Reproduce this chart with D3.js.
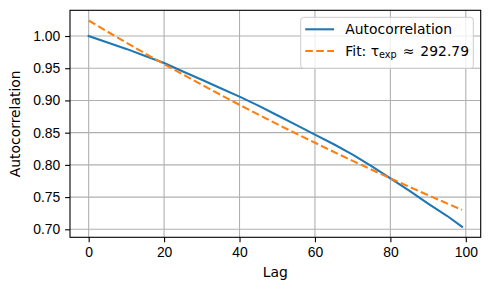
<!DOCTYPE html>
<html>
<head>
<meta charset="utf-8">
<script src="https://cdn.jsdelivr.net/npm/d3@7"></script>
<style>
  body { margin: 0; background: #fff; }
  svg { display: block; font-family: "DejaVu Sans", sans-serif; }
  .grid line { stroke: #b0b0b0; stroke-width: 1.1px; }
  .axis text { font-size: 13.9px; fill: #000; }
  .axis path, .axis line { stroke: #000; stroke-width: 1.1px; }
</style>
</head>
<body>
<svg width="490" height="290"></svg>
<script>
// autocorrelation
const lags = [0, 5, 10, 15, 20, 25, 30, 35, 40, 45, 50, 55, 60, 65, 70, 75, 80, 85, 90, 95, 99];
const acf = [1.000, 0.990, 0.980, 0.969, 0.958, 0.945, 0.932, 0.919, 0.906, 0.892, 0.877,
  0.862, 0.847, 0.832, 0.816, 0.798, 0.779, 0.760, 0.740, 0.721, 0.704];

// exponential fit, tau ~ 292.79
const fitLags = [0, 10, 20, 30, 40, 50, 60, 70, 80, 90, 99];
const fitVals = [1.024, 0.9896, 0.9564, 0.9243, 0.8932, 0.8632, 0.8343, 0.8062, 0.7792, 0.7530, 0.7302];

const xTicks = [0, 20, 40, 60, 80, 100];
const yTicks = [0.70, 0.75, 0.80, 0.85, 0.90, 0.95, 1.00];

const svg = d3.select("svg");
const width = +svg.attr("width");
const height = +svg.attr("height");
const margin = { top: 10.3, right: 9.3, bottom: 52.7, left: 70 };

const x = d3.scaleLinear().domain([-4.95, 103.95]).range([margin.left, width - margin.right]);
const y = d3.scaleLinear().domain([0.6876, 1.0399]).range([height - margin.bottom, margin.top]);

// grid
svg.append("g").attr("class", "grid")
  .selectAll("line.v").data(xTicks).join("line")
  .attr("x1", (d) => x(d)).attr("x2", (d) => x(d))
  .attr("y1", margin.top).attr("y2", height - margin.bottom);
svg.append("g").attr("class", "grid")
  .selectAll("line.h").data(yTicks).join("line")
  .attr("x1", margin.left).attr("x2", width - margin.right)
  .attr("y1", (d) => y(d)).attr("y2", (d) => y(d));

const line = d3.line().x((d) => x(d[0])).y((d) => y(d[1]));

svg.append("path")
  .datum(lags.map((l, i) => [l, acf[i]]))
  .attr("d", line)
  .attr("fill", "none").attr("stroke", "#1f77b4").attr("stroke-width", 2.08)
  .attr("stroke-linejoin", "round").attr("stroke-linecap", "square");

svg.append("path")
  .datum(fitLags.map((l, i) => [l, fitVals[i]]))
  .attr("d", d3.line().curve(d3.curveMonotoneX).x((d) => x(d[0])).y((d) => y(d[1])))
  .attr("fill", "none").attr("stroke", "#ff7f0e").attr("stroke-width", 2.08)
  .attr("stroke-dasharray", "7.7,3.3");

// axes
svg.append("g").attr("class", "axis")
  .attr("transform", `translate(0,${height - margin.bottom})`)
  .call(d3.axisBottom(x).tickValues(xTicks).tickSize(4.9).tickPadding(4.9).tickFormat(d3.format("d")))
  .call((g) => g.select(".domain").remove());
svg.append("g").attr("class", "axis")
  .attr("transform", `translate(${margin.left},0)`)
  .call(d3.axisLeft(y).tickValues(yTicks).tickSize(4.9).tickPadding(4.9).tickFormat(d3.format(".2f")))
  .call((g) => g.select(".domain").remove());

svg.append("rect")
  .attr("x", margin.left).attr("y", margin.top)
  .attr("width", width - margin.left - margin.right)
  .attr("height", height - margin.top - margin.bottom)
  .attr("fill", "none").attr("stroke", "#000").attr("stroke-width", 1.1);

// axis labels
svg.append("text")
  .attr("x", (margin.left + width - margin.right) / 2).attr("y", 277)
  .attr("text-anchor", "middle").attr("font-size", 13.9).text("Lag");
svg.append("text")
  .attr("transform", `translate(20,${(margin.top + height - margin.bottom) / 2}) rotate(-90)`)
  .attr("text-anchor", "middle").attr("font-size", 13.9).text("Autocorrelation");

// legend
const lg = svg.append("g").attr("transform", "translate(300.7,17.3)");
lg.append("rect").attr("width", 172.6).attr("height", 51).attr("rx", 2.8)
  .attr("fill", "#fff").attr("fill-opacity", 0.8).attr("stroke", "#cccccc").attr("stroke-width", 1);
lg.append("line").attr("x1", 4.5).attr("x2", 33.3).attr("y1", 12).attr("y2", 12)
  .attr("stroke", "#1f77b4").attr("stroke-width", 2.08);
lg.append("line").attr("x1", 4.5).attr("x2", 33.3).attr("y1", 33.7).attr("y2", 33.7)
  .attr("stroke", "#ff7f0e").attr("stroke-width", 2.08).attr("stroke-dasharray", "7.7,3.3");
lg.append("text").attr("x", 44.6).attr("y", 17).attr("font-size", 13.9).text("Autocorrelation");
const t2 = lg.append("text").attr("x", 44.6).attr("y", 38.7).attr("font-size", 13.9);
t2.append("tspan").text("Fit: τ");
t2.append("tspan").attr("font-size", 9.7).attr("dy", 2.5).text("exp");
t2.append("tspan").attr("dy", -2.5).attr("dx", 6).text("≈");
t2.append("tspan").attr("dx", 6).text("292.79");
</script>
</body>
</html>
